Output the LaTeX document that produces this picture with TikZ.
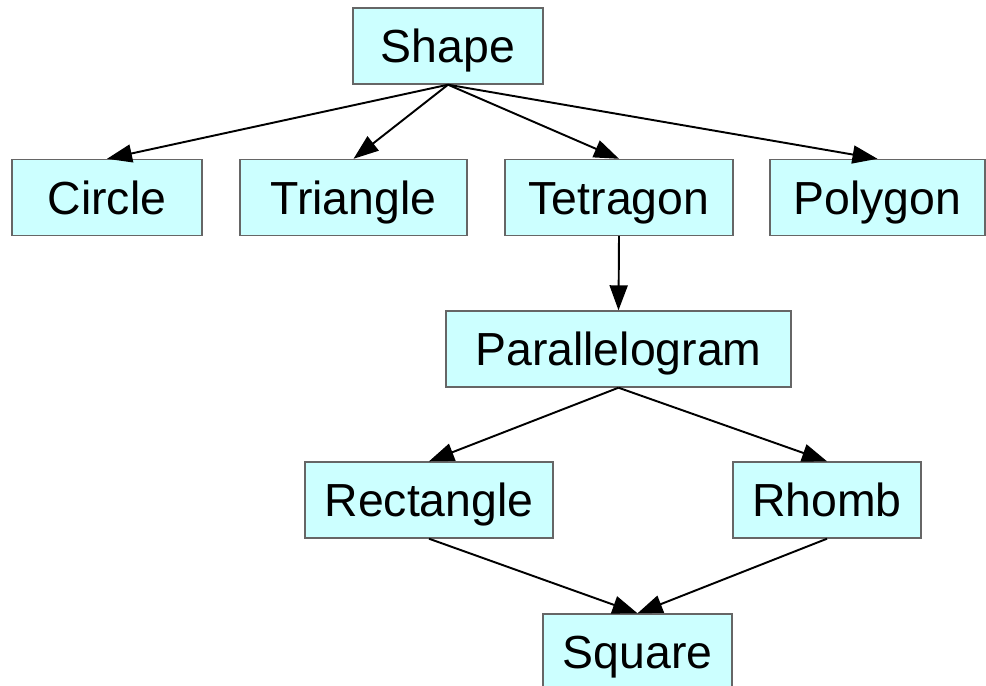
\documentclass[tikz,border=0pt]{standalone}
\usepackage{fontspec}
\setmainfont{Liberation Sans}
\usetikzlibrary{arrows.meta}
\definecolor{hellcyan}{RGB}{204,255,255}

\begin{document}
\begin{tikzpicture}[x=0.2mm,y=-0.2mm,
    >={Triangle[length=5mm,width=3.6mm]},
    klasse/.style={rectangle, draw=gray!80!black, line width=0.8pt, fill=hellcyan,
        minimum height=15.2mm, inner sep=0pt, text height=18.9pt, text depth=0pt,
        font=\fontsize{26.4}{30}\selectfont},
    pfeil/.style={->, line width=1.1pt}]

\useasboundingbox (0,0) rectangle (986,685);

\node [klasse, minimum width=38mm] (shape) at (448,46){Shape};
\node [klasse, minimum width=38mm] (circle) at (107,197.5){Circle};
\node [klasse, minimum width=45.4mm] (triangle) at (353.5,197.5){Triangle};
\node [klasse, minimum width=45.6mm] (tetragon) at (619,197.5){Tetragon};
\node [klasse, minimum width=43mm] (polygon) at (877.5,197.5){Polygon};
\node [klasse, minimum width=69mm] (parallelogram) at (618.5,349){Parallelogram};
\node [klasse, minimum width=49.6mm] (rectangle) at (429,500){Rectangle};
\node [klasse, minimum width=37.6mm] (rhomb) at (827,500){Rhomb};
\node [klasse, minimum width=37.8mm] (square) at (637.5,652){Square};

\draw[pfeil] (shape.south) -- (circle.north);
\draw[pfeil] (shape.south) -- (triangle.north);
\draw[pfeil] (shape.south) -- (tetragon.north);
\draw[pfeil] (shape.south) -- (polygon.north);
\draw[pfeil] (tetragon.south) -- (parallelogram.north);
\draw[pfeil] (parallelogram.south) -- (rectangle.north);
\draw[pfeil] (parallelogram.south) -- (rhomb.north);
\draw[pfeil] (rectangle.south) -- (square.north);
\draw[pfeil] (rhomb.south) -- (square.north);
\end{tikzpicture}
\end{document}
